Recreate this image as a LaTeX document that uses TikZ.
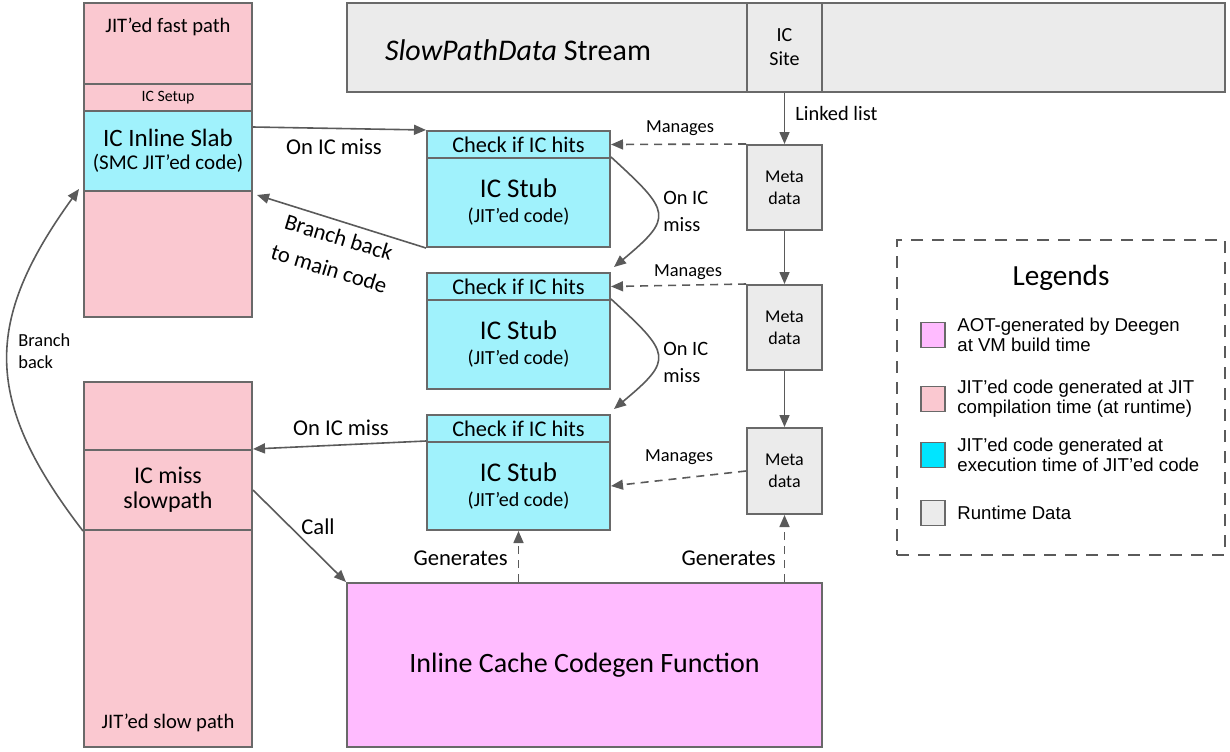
\documentclass[tikz,border=0pt]{standalone}
\usepackage{fontspec}
\setmainfont{Carlito}
\newfontfamily\legendfont{Liberation Sans}
\usepackage{tikz}
\usetikzlibrary{arrows.meta}
\usetikzlibrary{calc}
\definecolor{jitpink}{RGB}{250,200,208}
\definecolor{stubcyan}{RGB}{160,242,252}
\definecolor{legcyan}{RGB}{0,229,255}
\definecolor{aotmagenta}{RGB}{255,187,255}
\definecolor{datagray}{RGB}{235,235,235}
\definecolor{edgegray}{RGB}{105,105,105}
\definecolor{arrowgray}{RGB}{90,90,90}
\newcommand{\colx}{168}
\newcommand{\stubx}{518.5}
\newcommand{\metax}{784.5}
\newcommand{\legx}{1061}
\newcommand{\legsqx}{933}
\newcommand{\legtx}{957}
\newcommand{\colw}{84pt}
\newcommand{\stubw}{91.5pt}
\newcommand{\metaw}{37.5pt}
\newcommand{\hdrh}{13.5pt}
\newcommand{\stubh}{44.5pt}
\newcommand{\metah}{42.5pt}
\newcommand{\fsstream}{\fontsize{15}{18}\selectfont}
\newcommand{\fscodegen}{\fontsize{14}{17}\selectfont}
\newcommand{\fsstub}{\fontsize{13.5}{16}\selectfont}
\newcommand{\fsslab}{\fontsize{12.5}{15}\selectfont}
\newcommand{\fslabel}{\fontsize{11.3}{16.5}\selectfont}
\newcommand{\fshdr}{\fontsize{11.2}{13}\selectfont}
\newcommand{\fsnote}{\fontsize{10}{12.5}\selectfont}
\newcommand{\fssmall}{\fontsize{9.2}{11}\selectfont}
\newcommand{\fslegend}{\legendfont\fontsize{9.3}{10}\selectfont}

\begin{document}
\begin{tikzpicture}[x=0.5pt,y=-0.5pt,
    blk/.style={draw=edgegray,line width=1pt,inner sep=0pt,align=center},
    codebox/.style={blk,fill=jitpink,minimum width=\colw},
    stubbox/.style={blk,fill=stubcyan,minimum width=\stubw},
    databox/.style={blk,fill=datagray},
    lbl/.style={inner sep=0pt,align=center},
    conn/.style={draw=arrowgray,line width=0.8pt,-{Triangle[length=6pt,width=5pt]}},
    mgr/.style={conn,dash pattern=on 4pt off 3pt},
    legsq/.style={draw=edgegray,line width=0.8pt,minimum width=12pt,
      minimum height=12.5pt,inner sep=0pt}]
  \useasboundingbox (0,0) rectangle (1230,751);

  \node (fast) at (\colx, 43.5) [codebox, minimum height=40.5pt] {};
  \node (setup) at (\colx, 97.5) [codebox, minimum height=13.5pt,
    font=\fontsize{7.9}{9}\selectfont] {IC Setup};
  \node (slab) at (\colx, 151) [blk, fill=stubcyan, minimum width=\colw,
    minimum height=40pt, font=\fontsize{10.5}{11.5}\selectfont]
    {{\fsslab IC Inline Slab}\\(SMC JIT’ed code)};
  \node (lowpad) at (\colx, 254) [codebox, minimum height=63pt] {};
  \node (spad) at (\colx, 416) [codebox, minimum height=34pt] {};
  \node (miss) at (\colx, 490) [codebox, minimum height=40pt,
    font=\fontsize{12}{12.5}\selectfont] {IC miss\\slowpath};
  \node (slow) at (\colx, 638.5) [codebox, minimum height=108.5pt] {};
  \node (fastlbl) at (\colx, 27) [lbl, font=\fontsize{10.3}{12}\selectfont]
    {JIT’ed fast path};
  \node (slowlbl) at (\colx, 723) [lbl, font=\fontsize{10.3}{12}\selectfont]
    {JIT’ed slow path};

  \node (stream) at (547, 47.5) [databox, minimum width=200pt,
    minimum height=44.5pt] {};
  \node (site) at (\metax, 47.5) [databox, minimum width=\metaw,
    minimum height=44.5pt, font=\fontsize{10}{12}\selectfont] {IC\\Site};
  \node (streamr) at (1023.5, 47.5) [databox, minimum width=201.5pt,
    minimum height=44.5pt] {};
  \node (streamlbl) at (518, 50) [lbl, font=\fsstream]
    {\textit{SlowPathData} Stream};

  \node (hdr1) at (\stubx, 144.5) [stubbox, minimum height=\hdrh,
    font=\fshdr] {Check if IC hits};
  \node (stub1) at (\stubx, 202.5) [stubbox, minimum height=\stubh,
    font=\fsnote] {{\fsstub IC Stub}\\(JIT’ed code)};
  \node (hdr2) at (\stubx, 286.5) [stubbox, minimum height=\hdrh,
    font=\fshdr] {Check if IC hits};
  \node (stub2) at (\stubx, 344.5) [stubbox, minimum height=\stubh,
    font=\fsnote] {{\fsstub IC Stub}\\(JIT’ed code)};
  \node (hdr3) at (\stubx, 428.5) [stubbox, minimum height=\hdrh,
    font=\fshdr] {Check if IC hits};
  \node (stub3) at (\stubx, 486) [stubbox, minimum height=44pt,
    font=\fsnote] {{\fsstub IC Stub}\\(JIT’ed code)};

  \node (meta1) at (\metax, 187.5) [databox, minimum width=\metaw,
    minimum height=\metah, font=\fontsize{9}{11}\selectfont] {Meta\\data};
  \node (meta2) at (\metax, 327.5) [databox, minimum width=\metaw,
    minimum height=\metah, font=\fontsize{9}{11}\selectfont] {Meta\\data};
  \node (meta3) at (\metax, 471) [databox, minimum width=\metaw,
    minimum height=43pt, font=\fontsize{9}{11}\selectfont] {Meta\\data};

  \node (codegen) at (584.5, 665) [blk, fill=aotmagenta, minimum width=237.5pt,
    minimum height=82pt, font=\fscodegen] {Inline Cache Codegen Function};

  \draw[conn] ($(slab.north east)+(0,17)$) -- (hdr1.north west);
  \draw[conn] (stub1.south west) -- ($(slab.south east)+(4,3)$);
  \draw[conn] (stub1.north east)
    .. controls ($(stub1.north east)+(60,55)$) and ($(hdr2.north east)+(63,-55)$)
    .. ($(hdr2.north east)+(3,-5)$);
  \draw[conn] (stub2.north east)
    .. controls ($(stub2.north east)+(60,55)$) and ($(hdr3.north east)+(63,-55)$)
    .. ($(hdr3.north east)+(3,-5)$);
  \draw[conn] (stub3.north west) -- (miss.north east);
  \draw[conn] (miss.east) -- (codegen.north west);
  \draw[conn] (miss.south west)
    .. controls ($(miss.south west)+(-100,-130)$) and ($(slab.south west)+(-100,130)$)
    .. ($(slab.south west)+(-4,-3)$);
  \draw[conn] (site.south) -- (meta1.north);
  \draw[conn] (meta1.south) -- (meta2.north);
  \draw[conn] (meta2.south) -- (meta3.north);
  \draw[mgr] (meta1.north west) -- (hdr1.east);
  \draw[mgr] (meta2.north west) -- (hdr2.east);
  \draw[mgr] (meta3.west) -- (stub3.east);
  \draw[mgr] (stub3.south |- codegen.north) -- (stub3.south);
  \draw[mgr] (meta3.south |- codegen.north) -- (meta3.south);

  \node (lnklbl) at (795, 113) [lbl, anchor=west,
    font=\fontsize{10.2}{12}\selectfont] {Linked list};
  \node (mng1) at (680, 128) [lbl, font=\fssmall] {Manages};
  \node (mng2) at (688, 272) [lbl, font=\fssmall] {Manages};
  \node (mng3) at (679, 457) [lbl, font=\fssmall] {Manages};
  \node (miss1) at (663, 211) [lbl, anchor=west, align=left,
    font=\fontsize{10.2}{13.5}\selectfont] {On IC\\miss};
  \node (miss2) at (663, 362) [lbl, anchor=west, align=left,
    font=\fontsize{10.2}{13.5}\selectfont] {On IC\\miss};
  \node (misstop) at (334, 147) [lbl, font=\fslabel] {On IC miss};
  \node (missbot) at (341, 428) [lbl, font=\fslabel] {On IC miss};
  \node (calllbl) at (318, 527) [lbl, font=\fslabel] {Call};
  \node (gen1) at (508, 558) [lbl, anchor=east, font=\fslabel] {Generates};
  \node (gen2) at (776, 558) [lbl, anchor=east, font=\fslabel] {Generates};
  \node (brmain) at (334, 253) [lbl, rotate=-17, font=\fslabel]
    {Branch back\\to main code};
  \node (brleft) at (18, 351) [lbl, anchor=west, align=left, font=\fssmall]
    {Branch\\back};

  \node (legend) at (\legx, 397.5) [draw=arrowgray, line width=1.4pt,
    dash pattern=on 6pt off 4.5pt, minimum width=164pt,
    minimum height=157.5pt] {};
  \node (legtitle) at (\legx, 278) [lbl, font=\fontsize{14.6}{17}\selectfont]
    {Legends};
  \node (sqaot) at (\legsqx, 335) [legsq, fill=aotmagenta] {};
  \node (sqjit) at (\legsqx, 399) [legsq, fill=jitpink] {};
  \node (sqexe) at (\legsqx, 455) [legsq, fill=legcyan] {};
  \node (sqrun) at (\legsqx, 513) [legsq, fill=datagray] {};
  \node (txaot) at (\legtx, 335) [lbl, anchor=west, align=left, font=\fslegend]
    {AOT-generated by Deegen\\at VM build time};
  \node (txjit) at (\legtx, 399) [lbl, anchor=west, align=left, font=\fslegend]
    {JIT’ed code generated at JIT\\compilation time (at runtime)};
  \node (txexe) at (\legtx, 455) [lbl, anchor=west, align=left, font=\fslegend]
    {JIT’ed code generated at\\execution time of JIT’ed code};
  \node (txrun) at (\legtx, 513) [lbl, anchor=west, align=left, font=\fslegend]
    {Runtime Data};
\end{tikzpicture}
\end{document}
